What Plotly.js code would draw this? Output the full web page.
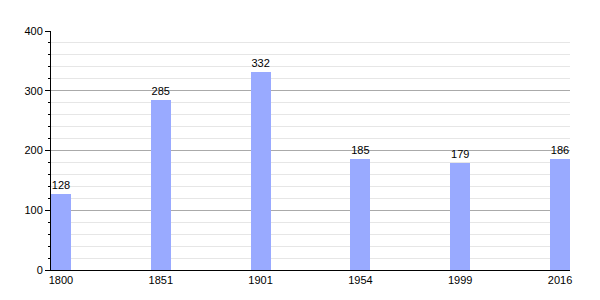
<!DOCTYPE html>
<html><head><meta charset="utf-8">
<script src="https://cdn.plot.ly/plotly-3.0.1.min.js"></script>
<style>html,body{margin:0;padding:0;background:#fff}</style>
</head><body><div id="chart" style="width:600px;height:300px"></div>
<script>
const years = ['1800','1851','1901','1954','1999','2016'];
const population = [128,285,332,185,179,186];

Plotly.newPlot('chart', [{
  type: 'bar',
  x: years,
  y: population,
  width: 0.2,
  marker: {color: '#99aaff', line: {width: 0}},
  text: population.map(String),
  textposition: 'outside',
  textfont: {family: 'Liberation Sans, Arial, sans-serif', size: 11, color: '#000'},
  cliponaxis: false,
  hoverinfo: 'none'
}], {
  width: 600, height: 300,
  margin: {l: 51, r: 30, t: 31, b: 30},
  paper_bgcolor: '#fff', plot_bgcolor: '#fff',
  showlegend: false,
  font: {family: 'Liberation Sans, Arial, sans-serif', size: 11, color: '#000'},
  xaxis: {
    type: 'category', range: [-0.1, 5.1],
    showline: true, linecolor: '#000', linewidth: 1,
    showgrid: false, ticks: '', zeroline: false, fixedrange: true,
    tickfont: {size: 11}
  },
  yaxis: {
    range: [0, 400], dtick: 100,
    showline: true, linecolor: '#000', linewidth: 1,
    ticks: 'outside', ticklen: 5, tickcolor: '#000',
    gridcolor: '#aaaaaa', gridwidth: 1, zeroline: false,
    minor: {dtick: 20, ticks: 'outside', ticklen: 2, tickcolor: '#000', showgrid: true, gridcolor: '#e6e6e6', gridwidth: 1},
    tickfont: {size: 11}
  },
  bargap: 0
}, {staticPlot: true, displayModeBar: false});
</script></body></html>
